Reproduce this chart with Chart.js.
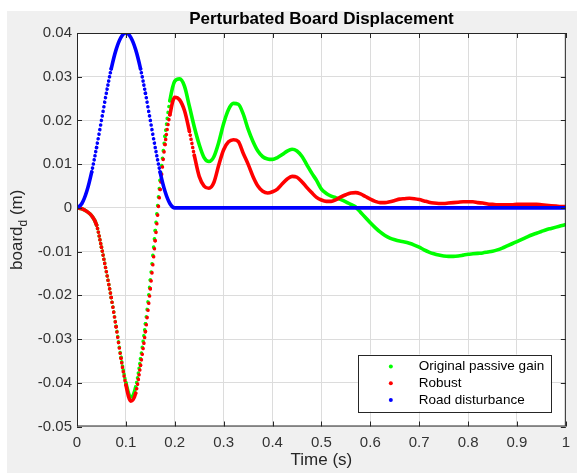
<!DOCTYPE html>
<html>
<head>
<meta charset="utf-8">
<title>Perturbated Board Displacement</title>
<script src="https://cdn.jsdelivr.net/npm/chart.js@4.4.0/dist/chart.umd.min.js"></script>
<style>
  html, body { margin: 0; padding: 0; background: #ffffff; }
  canvas { display: block; }
</style>
</head>
<body>
<canvas id="boardChart" width="577" height="473"></canvas>
<script>
// Simulation time (s)
const timeSteps = [
  0, 0.01, 0.02, 0.03, 0.04, 0.05, 0.06, 0.07, 0.08, 0.09,
  0.1, 0.11, 0.12, 0.13, 0.14, 0.15, 0.16, 0.17, 0.18, 0.19,
  0.2, 0.21, 0.22, 0.23, 0.24, 0.25, 0.26, 0.27, 0.28, 0.29,
  0.3, 0.31, 0.32, 0.33, 0.34, 0.35, 0.36, 0.37, 0.38, 0.39,
  0.4, 0.41, 0.42, 0.43, 0.44, 0.45, 0.46, 0.47, 0.48, 0.49,
  0.5, 0.51, 0.52, 0.53, 0.54, 0.55, 0.56, 0.57, 0.58, 0.59,
  0.6, 0.61, 0.62, 0.63, 0.64, 0.65, 0.66, 0.67, 0.68, 0.69,
  0.7, 0.71, 0.72, 0.73, 0.74, 0.75, 0.76, 0.77, 0.78, 0.79,
  0.8, 0.81, 0.82, 0.83, 0.84, 0.85, 0.86, 0.87, 0.88, 0.89,
  0.9, 0.91, 0.92, 0.93, 0.94, 0.95, 0.96, 0.97, 0.98, 0.99,
  1
];

// Board displacement (m) with the original passive gain
const passiveGain = [
  0, -0.0002, -0.0008, -0.0018, -0.0039, -0.0090, -0.0146, -0.0205, -0.0271, -0.0342,
  -0.0400, -0.0433, -0.0410, -0.0345, -0.0265, -0.0165, -0.0052, 0.0063, 0.0164, 0.0245,
  0.0290, 0.0295, 0.0278, 0.0232, 0.0185, 0.0145, 0.0115, 0.0106, 0.0117, 0.0150,
  0.0193, 0.0225, 0.0239, 0.0237, 0.0215, 0.0180, 0.0152, 0.0130, 0.0117, 0.0112,
  0.0111, 0.0115, 0.0122, 0.0130, 0.0134, 0.0130, 0.0118, 0.0099, 0.0080, 0.0063,
  0.0043, 0.0033, 0.0027, 0.0023, 0.0019, 0.0014, 0.0008, 0.0002, -0.0010, -0.0022,
  -0.0034, -0.0045, -0.0055, -0.0063, -0.0069, -0.0073, -0.0076, -0.0078, -0.0081, -0.0085,
  -0.0090, -0.0096, -0.0101, -0.0105, -0.0108, -0.0110, -0.0111, -0.0111, -0.0110, -0.0108,
  -0.0106, -0.0105, -0.0104, -0.0103, -0.0101, -0.0099, -0.0096, -0.0092, -0.0087, -0.0082,
  -0.0077, -0.0072, -0.0067, -0.0062, -0.0058, -0.0054, -0.0050, -0.0047, -0.0044, -0.0041,
  -0.0038
];

// Board displacement (m) with the robust controller
const robust = [
  0, -0.0002, -0.0008, -0.0018, -0.0039, -0.0090, -0.0146, -0.0205, -0.0272, -0.0344,
  -0.0405, -0.0442, -0.0424, -0.0360, -0.0283, -0.0185, -0.0075, 0.0042, 0.0145, 0.0213,
  0.0253, 0.0247, 0.0222, 0.0175, 0.0120, 0.0072, 0.0050, 0.0045, 0.0058, 0.0098,
  0.0133, 0.0151, 0.0156, 0.0152, 0.0125, 0.0100, 0.0072, 0.0050, 0.0038, 0.0034,
  0.0037, 0.0043, 0.0055, 0.0066, 0.0072, 0.0070, 0.0060, 0.0047, 0.0035, 0.0024,
  0.0018, 0.0015, 0.0015, 0.0019, 0.0025, 0.0030, 0.0034, 0.0035, 0.0032, 0.0026,
  0.0020, 0.0015, 0.0012, 0.0012, 0.0014, 0.0017, 0.0020, 0.0021, 0.0022, 0.0021,
  0.0019, 0.0016, 0.0013, 0.0011, 0.0010, 0.0010, 0.0011, 0.0012, 0.0013, 0.0014,
  0.0014, 0.0014, 0.0012, 0.0011, 0.0009, 0.0008, 0.0007, 0.0007, 0.0007, 0.0007,
  0.0008, 0.0008, 0.0008, 0.0008, 0.0008, 0.0007, 0.0006, 0.0005, 0.0004, 0.0003,
  0.0003
];

// Road profile bump (m)
const roadDisturbance = [
  0, 0.0010, 0.0038, 0.0082, 0.0138, 0.0200, 0.0262, 0.0318, 0.0362, 0.0390,
  0.0400, 0.0390, 0.0362, 0.0318, 0.0262, 0.0200, 0.0138, 0.0082, 0.0038, 0.0010,
  0, 0, 0, 0, 0, 0, 0, 0, 0, 0,
  0, 0, 0, 0, 0, 0, 0, 0, 0, 0,
  0, 0, 0, 0, 0, 0, 0, 0, 0, 0,
  0, 0, 0, 0, 0, 0, 0, 0, 0, 0,
  0, 0, 0, 0, 0, 0, 0, 0, 0, 0,
  0, 0, 0, 0, 0, 0, 0, 0, 0, 0,
  0, 0, 0, 0, 0, 0, 0, 0, 0, 0,
  0, 0, 0, 0, 0, 0, 0, 0, 0, 0,
  0
];

const seriesLabels = ['Original passive gain', 'Robust', 'Road disturbance'];
const xTickValues = [0, 0.1, 0.2, 0.3, 0.4, 0.5, 0.6, 0.7, 0.8, 0.9, 1];
const yTickValues = [-0.05, -0.04, -0.03, -0.02, -0.01, 0, 0.01, 0.02, 0.03, 0.04];

const FONT = '"Liberation Sans", Arial, Helvetica, sans-serif';
const AXIS_COLOR = '#262626';

function toPoints(values) {
  return timeSteps.map((t, i) => ({ x: t, y: values[i] }));
}

// Steep stretches are drawn as separate dots (the solver output is sampled
// more finely than the stored points), flat stretches as a solid trace
// where the dots overlap.
function dotDash(ctx) {
  const len = Math.hypot(ctx.p1.x - ctx.p0.x, ctx.p1.y - ctx.p0.y);
  const spacing = len / 6;
  return spacing > 3.8 ? [0.01, spacing - 0.01] : undefined;
}

// Gray figure background, boxed axes with inward ticks, title, labels, legend
const figurePlugin = {
  id: 'figureFrame',
  beforeDraw(chart) {
    const { ctx, chartArea: a } = chart;
    ctx.save();
    ctx.fillStyle = '#ffffff';
    ctx.fillRect(0, 0, chart.width, chart.height);
    ctx.fillStyle = '#f0f0f0';
    ctx.fillRect(7, 11, chart.width - 7, chart.height - 11);
    ctx.fillStyle = '#ffffff';
    ctx.fillRect(a.left, a.top, a.right - a.left, a.bottom - a.top);
    ctx.restore();
  },
  afterDraw(chart) {
    const { ctx, chartArea: a, scales } = chart;
    ctx.save();

    // axes box and ticks on all four sides
    ctx.strokeStyle = AXIS_COLOR;
    ctx.lineWidth = 1;
    ctx.strokeRect(a.left + 0.5, a.top + 0.5, a.right - a.left - 1, a.bottom - a.top - 1);
    ctx.beginPath();
    xTickValues.forEach(v => {
      const x = Math.round(scales.x.getPixelForValue(v)) + 0.5;
      ctx.moveTo(x, a.bottom); ctx.lineTo(x, a.bottom - 5);
      ctx.moveTo(x, a.top); ctx.lineTo(x, a.top + 5);
    });
    yTickValues.forEach(v => {
      const y = Math.round(scales.y.getPixelForValue(v)) + 0.5;
      ctx.moveTo(a.left, y); ctx.lineTo(a.left + 5, y);
      ctx.moveTo(a.right, y); ctx.lineTo(a.right - 5, y);
    });
    ctx.stroke();

    // title
    const cx = (a.left + a.right) / 2;
    ctx.fillStyle = '#000000';
    ctx.textAlign = 'center';
    ctx.textBaseline = 'middle';
    ctx.font = 'bold 17px ' + FONT;
    ctx.fillText('Perturbated Board Displacement', cx, 19);

    // x axis label
    ctx.fillStyle = AXIS_COLOR;
    ctx.font = '17px ' + FONT;
    ctx.fillText('Time (s)', cx, 460);

    // y axis label with subscript
    const main = '17px ' + FONT, sub = '12px ' + FONT;
    ctx.font = main;
    const w1 = ctx.measureText('board').width;
    const w3 = ctx.measureText(' (m)').width;
    ctx.font = sub;
    const w2 = ctx.measureText('d').width;
    const total = w1 + w2 + w3;
    ctx.translate(22, (a.top + a.bottom) / 2);
    ctx.rotate(-Math.PI / 2);
    ctx.textAlign = 'left';
    ctx.textBaseline = 'alphabetic';
    let px = -total / 2;
    ctx.font = main;
    ctx.fillText('board', px, 0);
    px += w1;
    ctx.font = sub;
    ctx.fillText('d', px, 4.5);
    px += w2;
    ctx.font = main;
    ctx.fillText(' (m)', px, 0);
    ctx.setTransform(1, 0, 0, 1, 0, 0);

    // legend in the lower right corner of the axes
    const boxW = 193, boxH = 57;
    const bx = a.right - 15 - boxW, by = a.bottom - 15 - boxH;
    ctx.fillStyle = '#ffffff';
    ctx.fillRect(bx, by, boxW, boxH);
    ctx.strokeStyle = AXIS_COLOR;
    ctx.strokeRect(Math.round(bx) + 0.5, Math.round(by) + 0.5, boxW, boxH);
    ctx.font = '13.5px ' + FONT;
    ctx.textAlign = 'left';
    ctx.textBaseline = 'middle';
    chart.data.datasets.forEach((ds, i) => {
      const y = by + 12 + i * 16.7;
      ctx.fillStyle = ds.borderColor;
      ctx.beginPath();
      ctx.arc(bx + 33, y, 2, 0, Math.PI * 2);
      ctx.fill();
      ctx.fillStyle = '#000000';
      ctx.fillText(ds.label, bx + 61, y);
    });

    ctx.restore();
  }
};

const tickFont = { family: FONT, size: 15 };

new Chart(document.getElementById('boardChart'), {
  type: 'line',
  data: {
    datasets: [
      { label: seriesLabels[0], data: toPoints(passiveGain), borderColor: '#00ff00', order: 3 },
      { label: seriesLabels[1], data: toPoints(robust), borderColor: '#ff0000', order: 2 },
      { label: seriesLabels[2], data: toPoints(roadDisturbance), borderColor: '#0000ff', order: 1 }
    ]
  },
  options: {
    responsive: false,
    animation: false,
    layout: { padding: { top: 33, right: 3, left: 0, bottom: 0 } },
    elements: {
      point: { radius: 0, hoverRadius: 0 },
      line: {
        borderWidth: 3.6,
        borderCapStyle: 'round',
        borderJoinStyle: 'round',
        cubicInterpolationMode: 'monotone',
        fill: false
      }
    },
    datasets: {
      line: { segment: { borderDash: dotDash } }
    },
    plugins: {
      legend: { display: false },
      title: { display: false },
      tooltip: { enabled: false }
    },
    scales: {
      x: {
        type: 'linear',
        min: 0,
        max: 1,
        afterBuildTicks: s => { s.ticks = xTickValues.map(v => ({ value: v })); },
        afterFit: s => { s.height = 46.5; },
        ticks: { callback: v => String(v), color: '#333333', font: tickFont, padding: 7, maxRotation: 0, autoSkip: false },
        grid: { color: '#dcdcdc', drawTicks: false },
        border: { display: false }
      },
      y: {
        type: 'linear',
        min: -0.05,
        max: 0.04,
        afterBuildTicks: s => { s.ticks = yTickValues.map(v => ({ value: v })); },
        afterFit: s => { s.width = 77; },
        ticks: { callback: v => String(v), color: '#333333', font: tickFont, padding: 5, autoSkip: false },
        grid: { color: '#dcdcdc', drawTicks: false },
        border: { display: false }
      }
    }
  },
  plugins: [figurePlugin]
});
</script>
</body>
</html>
